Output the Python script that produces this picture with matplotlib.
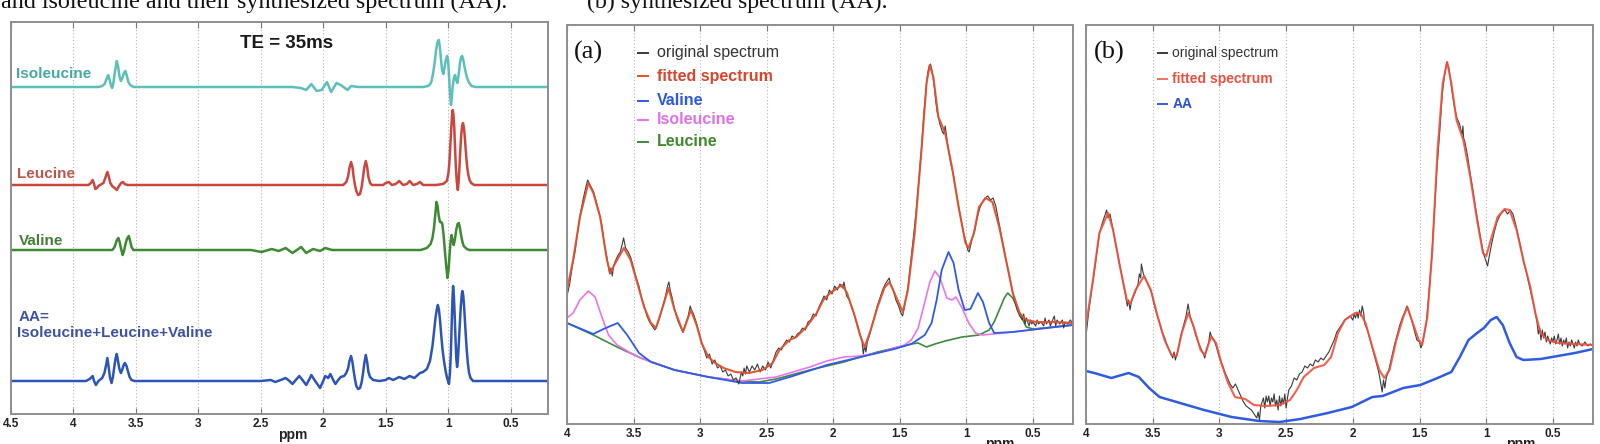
import matplotlib
matplotlib.use("Agg")
import matplotlib.pyplot as plt

SANS = "Liberation Sans"
SERIF = "Liberation Serif"

# ---------------- Panel 1 : individual metabolite spectra ----------------
ticks_p1 = [4.5, 4, 3.5, 3, 2.5, 2, 1.5, 1, 0.5]
ticklabels_p1 = ["4.5", "4", "3.5", "3", "2.5", "2", "1.5", "1", "0.5"]
ticks_p23 = [4, 3.5, 3, 2.5, 2, 1.5, 1, 0.5]
ticklabels_p23 = ["4", "3.5", "3", "2.5", "2", "1.5", "1", "0.5"]

p1_names = ["Isoleucine", "Leucine", "Valine", "AA"]
p1_offsets = [327, 229, 164, 33]

iso_pts = [(4.50, 0), (3.80, 0), (3.77, 1), (3.75, 3), (3.735, 8), (3.722, 12), (3.71, 7), (3.698, 1),
           (3.69, -1), (3.68, 4), (3.668, 15), (3.653, 26), (3.642, 20), (3.632, 11), (3.62, 6),
           (3.608, 9), (3.596, 14), (3.584, 16), (3.572, 11), (3.56, 5), (3.545, 2), (3.52, 0), (3.50, 0),
           (2.25, 0), (2.18, -1), (2.136, -3), (2.095, 3), (2.053, -4), (2.012, -3), (1.97, 5), (1.937, -5),
           (1.893, 4), (1.86, 2), (1.805, -3), (1.777, 1), (1.722, 0),
           (1.20, 0), (1.16, 1), (1.143, 3), (1.132, 6), (1.12, 14), (1.108, 24), (1.097, 36), (1.085, 45),
           (1.074, 47), (1.066, 40), (1.058, 29), (1.048, 17), (1.038, 13), (1.03, 18), (1.02, 26),
           (1.008, 31), (1.0, 26), (0.992, 10), (0.984, -8), (0.977, -18), (0.97, -10), (0.962, 2),
           (0.952, 10), (0.944, 12), (0.935, 7), (0.926, 4), (0.916, 12), (0.905, 24), (0.895, 30),
           (0.887, 31), (0.878, 27), (0.868, 20), (0.856, 13), (0.845, 8), (0.83, 4), (0.812, 1),
           (0.78, 0), (0.20, 0)]

leu_pts = [(4.50, 0), (3.88, 0), (3.86, 2), (3.846, 5), (3.835, 1), (3.825, -4), (3.812, -3), (3.80, -1),
           (3.76, 2), (3.745, 7), (3.735, 11), (3.728, 13), (3.718, 9), (3.705, 2), (3.69, -1),
           (3.67, -3), (3.653, -5), (3.635, -1), (3.618, 2), (3.603, 3), (3.59, 1), (3.57, 0), (3.50, 0),
           (1.84, 0), (1.815, 3), (1.80, 9), (1.79, 17), (1.777, 23), (1.766, 18), (1.756, 8),
           (1.746, 0), (1.735, -6), (1.72, -10), (1.705, -9), (1.692, -2), (1.682, 7), (1.672, 17),
           (1.659, 24), (1.648, 18), (1.638, 8), (1.625, 2), (1.61, 0),
           (1.52, 0), (1.50, 2), (1.474, 3), (1.45, 0), (1.42, 1), (1.391, 4), (1.36, 0), (1.33, 1),
           (1.308, 4), (1.28, 0), (1.25, 1), (1.225, 3), (1.20, 0), (1.10, 0), (1.04, 1), (1.01, 4),
           (0.998, 11), (0.99, 22), (0.982, 40), (0.975, 56), (0.968, 70), (0.963, 75), (0.957, 70),
           (0.95, 56), (0.944, 36), (0.938, 18), (0.93, 3), (0.922, -5), (0.916, 3), (0.91, 15),
           (0.903, 33), (0.895, 50), (0.888, 59), (0.881, 62), (0.874, 58), (0.867, 49), (0.86, 37),
           (0.853, 26), (0.846, 17), (0.838, 10), (0.828, 5), (0.815, 2), (0.79, 0), (0.20, 0)]

val_pts = [(4.50, 0), (3.69, 0), (3.675, 2), (3.665, 5), (3.652, 10), (3.64, 12), (3.63, 8), (3.62, 2),
           (3.606, -5), (3.595, -1), (3.585, 5), (3.572, 11), (3.557, 14), (3.546, 9), (3.535, 3),
           (3.52, 0), (3.40, 0),
           (2.60, 0), (2.577, 0), (2.494, -2), (2.44, 0), (2.412, 1), (2.357, -1), (2.301, 2), (2.246, -3),
           (2.177, 3), (2.136, -3), (2.081, 1), (2.025, -1), (1.984, 2), (1.929, 0),
           (1.22, 0), (1.17, 2), (1.14, 6), (1.125, 12), (1.113, 22), (1.103, 35), (1.093, 48),
           (1.084, 44), (1.075, 34), (1.065, 28), (1.055, 28), (1.046, 26), (1.036, 15), (1.025, -2),
           (1.015, -16), (1.005, -28), (0.996, -20), (0.988, -4), (0.98, 9), (0.972, 15), (0.963, 9),
           (0.955, 5), (0.945, 11), (0.935, 20), (0.924, 26), (0.914, 27), (0.905, 22), (0.895, 14),
           (0.885, 8), (0.875, 4), (0.85, 1), (0.83, 0), (0.20, 0)]

aa_pts = [(4.50, 0), (3.90, 0), (3.87, 2), (3.846, 5), (3.835, 0), (3.82, -4), (3.80, 0), (3.77, 3),
          (3.752, 8), (3.74, 15), (3.728, 23), (3.718, 14), (3.708, 4), (3.695, -2), (3.684, 4),
          (3.672, 15), (3.662, 23), (3.653, 27), (3.643, 20), (3.632, 12), (3.62, 8), (3.61, 11),
          (3.598, 16), (3.588, 18), (3.575, 15), (3.562, 9), (3.55, 4), (3.535, 1), (3.51, 0), (3.40, 0),
          (2.50, 0),
          (2.42, 1), (2.384, -1), (2.34, 1), (2.301, 3), (2.27, 0), (2.246, -3), (2.22, 1), (2.191, 5),
          (2.16, 0), (2.136, -4), (2.11, 2), (2.095, 6), (2.07, 1), (2.053, -2), (2.025, -7), (2.00, 0),
          (1.984, 5), (1.96, 3), (1.943, 7), (1.92, 1), (1.902, -3), (1.88, 1), (1.86, 4), (1.833, 5),
          (1.815, 8), (1.80, 13), (1.79, 20), (1.777, 25), (1.766, 19), (1.756, 10), (1.746, 2),
          (1.735, -5), (1.72, -8), (1.705, -7), (1.692, -1), (1.682, 7), (1.672, 17), (1.659, 26),
          (1.648, 19), (1.638, 9), (1.625, 4), (1.60, 1), (1.55, 0), (1.50, 1),
          (1.474, 3), (1.44, 1), (1.391, 4), (1.35, 2), (1.308, 5), (1.27, 3), (1.225, 8), (1.20, 9),
          (1.17, 12), (1.145, 20), (1.125, 35), (1.112, 50), (1.10, 64), (1.09, 72), (1.082, 76),
          (1.073, 71), (1.064, 60), (1.055, 46), (1.045, 32), (1.033, 20), (1.02, 10), (1.008, 3),
          (0.993, -3), (0.985, 8), (0.978, 28), (0.97, 62), (0.965, 82), (0.96, 95), (0.954, 86),
          (0.948, 68), (0.94, 40), (0.934, 22), (0.928, 14), (0.922, 20), (0.915, 36), (0.907, 55),
          (0.898, 75), (0.89, 87), (0.886, 90), (0.879, 86), (0.872, 75), (0.865, 60), (0.858, 45),
          (0.85, 30), (0.842, 18), (0.832, 8), (0.82, 3), (0.80, 0), (0.20, 0)]

# ---------------- Panel (a) : fit with individual components ----------------
a_fit = [(4.000, 134), (3.954, 164), (3.903, 207), (3.840, 241), (3.802, 231), (3.751, 207), (3.700, 164),
         (3.675, 151), (3.637, 161), (3.573, 176), (3.522, 164), (3.472, 141), (3.421, 117), (3.370, 101),
         (3.332, 96), (3.281, 117), (3.238, 136), (3.192, 114), (3.129, 92), (3.070, 114), (3.027, 99),
         (2.989, 81), (2.938, 67), (2.887, 61), (2.824, 56), (2.735, 52), (2.633, 51), (2.532, 54),
         (2.456, 61), (2.405, 74), (2.329, 84), (2.278, 87), (2.202, 97), (2.125, 111), (2.075, 124),
         (2.024, 131), (1.935, 139), (1.897, 131), (1.846, 111), (1.795, 87), (1.765, 77), (1.719, 94),
         (1.668, 117), (1.617, 136), (1.579, 142), (1.541, 131), (1.478, 112), (1.440, 134), (1.389, 191),
         (1.338, 274), (1.300, 341), (1.275, 359), (1.249, 347), (1.211, 307), (1.160, 291), (1.109, 257),
         (1.059, 217), (1.008, 181), (0.983, 176), (0.944, 191), (0.906, 217), (0.856, 226), (0.805, 222),
         (0.754, 197), (0.703, 164), (0.652, 131), (0.601, 111), (0.551, 104), (0.474, 102), (0.347, 102),
         (0.200, 101)]

a_orig = [(4.00, 128), (3.98, 140), (3.96, 158), (3.94, 172), (3.92, 192), (3.90, 210), (3.88, 224),
          (3.86, 236), (3.845, 244), (3.83, 240), (3.815, 236), (3.80, 232), (3.78, 222), (3.76, 212),
          (3.74, 200), (3.72, 180), (3.70, 166), (3.69, 158), (3.68, 150), (3.67, 156), (3.66, 148),
          (3.65, 158), (3.64, 162), (3.62, 168), (3.60, 172), (3.585, 180), (3.575, 186), (3.56, 176),
          (3.54, 172), (3.52, 166), (3.50, 156), (3.48, 146), (3.46, 138), (3.44, 126), (3.42, 118),
          (3.40, 108), (3.38, 102), (3.36, 98), (3.34, 94), (3.32, 100), (3.30, 108), (3.28, 118),
          (3.26, 128), (3.245, 138), (3.235, 142), (3.225, 134), (3.21, 126), (3.19, 114), (3.17, 104),
          (3.15, 98), (3.13, 92), (3.11, 100), (3.09, 108), (3.075, 118), (3.065, 114), (3.05, 110),
          (3.03, 102), (3.01, 92), (2.99, 82), (2.97, 74), (2.95, 66), (2.93, 70), (2.91, 60), (2.89, 64),
          (2.87, 56), (2.85, 58), (2.83, 52), (2.81, 54), (2.79, 48), (2.77, 50), (2.75, 44), (2.73, 46),
          (2.71, 40), (2.70, 46), (2.69, 52), (2.68, 48), (2.67, 56), (2.66, 50), (2.65, 58), (2.63, 52),
          (2.61, 58), (2.59, 54), (2.57, 60), (2.55, 52), (2.53, 58), (2.51, 54), (2.49, 62), (2.47, 56),
          (2.45, 64), (2.43, 72), (2.41, 76), (2.39, 74), (2.37, 80), (2.35, 84), (2.33, 82), (2.31, 88),
          (2.29, 86), (2.27, 90), (2.25, 92), (2.23, 96), (2.21, 94), (2.19, 102), (2.17, 104),
          (2.15, 110), (2.13, 108), (2.11, 116), (2.09, 122), (2.07, 128), (2.05, 124), (2.03, 134),
          (2.01, 130), (1.99, 138), (1.97, 134), (1.95, 140), (1.93, 136), (1.92, 142), (1.90, 128),
          (1.88, 124), (1.86, 116), (1.84, 108), (1.82, 100), (1.80, 90), (1.785, 84), (1.775, 70),
          (1.765, 78), (1.755, 72), (1.745, 82), (1.73, 88), (1.71, 98), (1.69, 108), (1.67, 118),
          (1.65, 126), (1.63, 134), (1.61, 140), (1.59, 144), (1.58, 146), (1.57, 140), (1.55, 134),
          (1.53, 124), (1.51, 118), (1.495, 112), (1.48, 108), (1.47, 114), (1.46, 122), (1.44, 136),
          (1.42, 160), (1.40, 185), (1.38, 210), (1.36, 240), (1.34, 272), (1.32, 310), (1.30, 340),
          (1.29, 352), (1.28, 358), (1.27, 360), (1.26, 354), (1.25, 346), (1.24, 336), (1.23, 322),
          (1.22, 312), (1.21, 306), (1.20, 300), (1.19, 296), (1.18, 292), (1.17, 290), (1.16, 298),
          (1.15, 288), (1.14, 278), (1.12, 262), (1.10, 250), (1.08, 234), (1.06, 218), (1.04, 204),
          (1.02, 190), (1.00, 180), (0.99, 174), (0.98, 172), (0.97, 178), (0.96, 184), (0.94, 192),
          (0.92, 206), (0.90, 216), (0.88, 222), (0.86, 226), (0.84, 228), (0.82, 224), (0.80, 226),
          (0.78, 218), (0.76, 204), (0.74, 190), (0.72, 176), (0.70, 162), (0.68, 150), (0.66, 136),
          (0.64, 124), (0.62, 114), (0.60, 108), (0.58, 104), (0.57, 110), (0.56, 100), (0.55, 106),
          (0.54, 102), (0.53, 98), (0.52, 104), (0.51, 100), (0.50, 102), (0.48, 98), (0.47, 104),
          (0.46, 100), (0.44, 102), (0.42, 98), (0.41, 106), (0.40, 100), (0.38, 104), (0.37, 98),
          (0.36, 102), (0.34, 108), (0.33, 98), (0.32, 104), (0.30, 100), (0.28, 104), (0.27, 96),
          (0.26, 102), (0.24, 100), (0.22, 104), (0.20, 100)]

a_leucine = [(4.000, 101), (3.802, 89), (3.624, 77), (3.446, 66), (3.192, 54), (2.938, 47), (2.710, 43),
             (2.557, 42), (2.430, 45), (2.176, 54), (1.922, 62), (1.668, 72), (1.541, 76), (1.414, 80),
             (1.363, 81), (1.300, 77), (1.237, 80), (1.160, 83), (1.033, 87), (0.906, 89), (0.830, 94),
             (0.792, 102), (0.754, 114), (0.716, 126), (0.690, 131), (0.652, 126), (0.601, 111),
             (0.551, 97), (0.500, 95), (0.347, 97), (0.200, 99)]

a_isoleucine = [(4.000, 106), (3.954, 111), (3.903, 124), (3.840, 133), (3.789, 127), (3.738, 107),
                (3.688, 89), (3.624, 79), (3.522, 71), (3.446, 66), (3.192, 54), (2.938, 47), (2.684, 43),
                (2.430, 47), (2.176, 57), (2.049, 63), (1.922, 67), (1.795, 68), (1.668, 71), (1.541, 76),
                (1.465, 79), (1.414, 84), (1.363, 96), (1.313, 122), (1.275, 142), (1.237, 153),
                (1.198, 146), (1.148, 126), (1.109, 124), (1.079, 127), (1.033, 116), (0.983, 101),
                (0.932, 91), (0.881, 89), (0.652, 92), (0.398, 96), (0.200, 99)]

a_valine = [(4.000, 101), (3.802, 90), (3.726, 95), (3.619, 101), (3.548, 89), (3.459, 71), (3.370, 62),
            (3.192, 54), (2.938, 47), (2.684, 41), (2.481, 41), (2.303, 48), (2.049, 59), (1.795, 67),
            (1.541, 75), (1.414, 80), (1.313, 89), (1.262, 101), (1.224, 124), (1.186, 154), (1.135, 172),
            (1.097, 161), (1.059, 134), (1.013, 114), (0.970, 115), (0.914, 131), (0.876, 122),
            (0.830, 101), (0.792, 91), (0.652, 92), (0.398, 96), (0.200, 99)]

# ---------------- Panel (b) : fit with synthesized AA ----------------
b_fit = [(4.000, 99), (3.951, 141), (3.900, 191), (3.835, 211), (3.797, 194), (3.745, 157), (3.694, 124),
         (3.668, 120), (3.629, 134), (3.565, 148), (3.514, 134), (3.462, 107), (3.411, 84), (3.359, 69),
         (3.321, 68), (3.282, 91), (3.233, 111), (3.192, 97), (3.141, 74), (3.110, 69), (3.063, 87),
         (3.025, 81), (2.986, 61), (2.935, 41), (2.883, 27), (2.806, 25), (2.742, 19), (2.652, 18),
         (2.549, 19), (2.471, 24), (2.420, 34), (2.368, 47), (2.291, 56), (2.214, 59), (2.163, 67),
         (2.111, 91), (2.060, 104), (1.983, 111), (1.944, 111), (1.905, 101), (1.854, 77), (1.802, 54),
         (1.764, 46), (1.725, 54), (1.674, 84), (1.622, 107), (1.591, 117), (1.558, 104), (1.506, 84),
         (1.481, 79), (1.442, 107), (1.404, 174), (1.365, 274), (1.326, 341), (1.293, 362), (1.262, 341),
         (1.223, 304), (1.172, 284), (1.120, 247), (1.069, 204), (1.025, 171), (1.000, 168), (0.966, 184),
         (0.915, 207), (0.863, 215), (0.825, 214), (0.773, 194), (0.722, 164), (0.670, 137), (0.632, 111),
         (0.593, 91), (0.541, 84), (0.464, 81), (0.336, 80), (0.200, 79)]

b_orig = [(4.00, 88), (3.98, 112), (3.96, 132), (3.94, 150), (3.92, 170), (3.90, 190), (3.88, 200),
          (3.86, 208), (3.845, 214), (3.835, 206), (3.82, 210), (3.80, 196), (3.78, 182), (3.76, 168),
          (3.74, 154), (3.72, 140), (3.70, 126), (3.69, 118), (3.68, 124), (3.67, 114), (3.66, 122),
          (3.65, 126), (3.63, 132), (3.61, 140), (3.60, 150), (3.59, 146), (3.585, 160), (3.57, 150),
          (3.55, 144), (3.53, 138), (3.51, 132), (3.49, 120), (3.47, 110), (3.45, 102), (3.43, 92),
          (3.41, 86), (3.39, 78), (3.37, 72), (3.35, 66), (3.34, 72), (3.33, 64), (3.31, 74), (3.29, 88),
          (3.27, 98), (3.25, 108), (3.24, 116), (3.235, 120), (3.22, 108), (3.20, 100), (3.18, 90),
          (3.16, 82), (3.14, 76), (3.12, 70), (3.11, 66), (3.10, 72), (3.08, 82), (3.07, 92), (3.06, 88),
          (3.04, 84), (3.02, 76), (3.00, 66), (2.98, 60), (2.96, 52), (2.94, 46), (2.92, 40), (2.90, 36),
          (2.88, 40), (2.86, 34), (2.84, 28), (2.82, 22), (2.80, 18), (2.78, 16), (2.76, 14), (2.74, 10),
          (2.72, 6), (2.71, 12), (2.70, 4), (2.69, 18), (2.68, 22), (2.67, 26), (2.66, 16), (2.65, 28),
          (2.64, 22), (2.63, 28), (2.62, 18), (2.61, 26), (2.60, 22), (2.59, 30), (2.58, 18), (2.57, 24),
          (2.56, 14), (2.55, 28), (2.54, 18), (2.53, 26), (2.52, 20), (2.51, 30), (2.50, 16), (2.49, 26),
          (2.48, 34), (2.46, 38), (2.44, 46), (2.42, 44), (2.40, 50), (2.38, 52), (2.36, 58), (2.34, 56),
          (2.32, 60), (2.30, 58), (2.28, 64), (2.26, 62), (2.24, 66), (2.22, 64), (2.20, 68), (2.18, 72),
          (2.16, 78), (2.14, 84), (2.12, 92), (2.10, 96), (2.08, 100), (2.06, 104), (2.04, 106),
          (2.02, 108), (2.00, 104), (1.99, 110), (1.98, 106), (1.97, 112), (1.96, 106), (1.95, 114),
          (1.94, 108), (1.93, 118), (1.92, 112), (1.91, 100), (1.89, 94), (1.87, 84), (1.85, 74),
          (1.83, 64), (1.81, 54), (1.80, 48), (1.79, 40), (1.78, 32), (1.77, 44), (1.76, 36), (1.75, 46),
          (1.73, 54), (1.71, 66), (1.69, 78), (1.67, 88), (1.65, 98), (1.63, 106), (1.61, 112),
          (1.595, 118), (1.58, 112), (1.56, 104), (1.54, 94), (1.52, 84), (1.50, 82), (1.49, 76),
          (1.48, 80), (1.47, 86), (1.45, 100), (1.43, 130), (1.41, 165), (1.39, 210), (1.37, 255),
          (1.35, 290), (1.33, 330), (1.31, 352), (1.295, 362), (1.28, 356), (1.27, 346), (1.26, 336),
          (1.24, 318), (1.22, 306), (1.20, 300), (1.19, 294), (1.18, 290), (1.175, 298), (1.17, 286),
          (1.16, 282), (1.14, 268), (1.12, 250), (1.10, 234), (1.08, 216), (1.06, 200), (1.04, 184),
          (1.02, 170), (1.00, 162), (0.99, 158), (0.98, 166), (0.96, 180), (0.94, 192), (0.92, 202),
          (0.90, 208), (0.88, 212), (0.86, 214), (0.84, 210), (0.82, 214), (0.80, 210), (0.78, 200),
          (0.76, 188), (0.74, 176), (0.72, 162), (0.70, 152), (0.68, 140), (0.66, 128), (0.64, 116),
          (0.62, 102), (0.61, 90), (0.60, 96), (0.59, 84), (0.58, 94), (0.57, 86), (0.56, 92), (0.55, 82),
          (0.54, 88), (0.53, 84), (0.52, 80), (0.51, 86), (0.50, 82), (0.49, 88), (0.48, 80), (0.47, 84),
          (0.46, 90), (0.45, 80), (0.44, 86), (0.43, 78), (0.42, 84), (0.41, 80), (0.40, 86), (0.39, 76),
          (0.38, 82), (0.37, 78), (0.36, 84), (0.35, 80), (0.34, 76), (0.33, 82), (0.32, 78), (0.31, 84),
          (0.30, 80), (0.28, 78), (0.26, 82), (0.24, 78), (0.22, 80), (0.20, 78)]

b_aa = [(4.000, 53), (3.938, 51), (3.810, 46), (3.681, 51), (3.604, 47), (3.527, 36), (3.449, 27),
        (3.295, 21), (3.115, 14), (2.909, 7), (2.703, 3), (2.549, 2), (2.394, 5), (2.188, 11), (2.008, 17),
        (1.931, 22), (1.854, 27), (1.777, 28), (1.699, 32), (1.622, 36), (1.494, 39), (1.365, 46),
        (1.262, 52), (1.198, 67), (1.133, 84), (1.069, 91), (1.018, 96), (0.966, 104), (0.922, 107),
        (0.876, 99), (0.825, 81), (0.773, 67), (0.722, 64), (0.593, 65), (0.464, 68), (0.336, 71),
        (0.200, 75)]

# ---------------- colours ----------------
p1_colors = ["#5cbfba", "#c9473c", "#3e8a33", "#2d55b5"]
p1_label_colors = ["#45a9a0", "#c0554c", "#437f34", "#3d52a0"]
c_orig = "#3a3a3a"
c_fit = "#e0502e"
c_val = "#2f5be6"
c_iso = "#ea74ea"
c_leu = "#3f8a3c"
c_aa = "#2f5be0"
frame_c = "#8e8e8e"


def xy(pts):
    xs, ys = zip(*pts)
    return list(xs), list(ys)


def style_axes(ax, ticks, labels, xlim, ylim):
    ax.set_xlim(*xlim)
    ax.set_ylim(*ylim)
    ax.set_xticks(ticks)
    ax.set_xticklabels(labels)
    ax.set_yticks([])
    ax.tick_params(axis="x", direction="in", length=4, width=0.8, color="#777777",
                   top=True, bottom=True, pad=3, labelsize=8.5)
    for lab in ax.get_xticklabels():
        lab.set_fontweight("bold")
        lab.set_family(SANS)
        lab.set_color("#222222")
    ax.grid(axis="x", linestyle=(0, (1, 2)), color="#b5b5b5", linewidth=0.8)
    ax.set_axisbelow(True)
    for s in ax.spines.values():
        s.set_color(frame_c)
        s.set_linewidth(1.4)


fig = plt.figure(figsize=(16, 4.44), dpi=100)

# ---- caption fragments cut at top ----
fig.text(0.0005, 0.982, "and isoleucine and their synthesized spectrum (AA).", family=SERIF,
         fontsize=17.4, va="baseline", ha="left", color="#111111")
fig.text(0.3667, 0.982, "(b) synthesized spectrum (AA).", family=SERIF,
         fontsize=17.2, va="baseline", ha="left", color="#111111")

# ---- Panel 1 ----
ax1 = fig.add_axes([11 / 1600, 30 / 444, 537 / 1600, 392 / 444])
style_axes(ax1, ticks_p1, ticklabels_p1, (4.5, 0.2), (0, 392))
for pts, off, col in zip([iso_pts, leu_pts, val_pts, aa_pts], p1_offsets, p1_colors):
    xs, ys = xy(pts)
    ax1.plot(xs, [y + off for y in ys], color=col, lw=1.8, solid_joinstyle="round")
ax1.text(2.29, 371, "TE = 35ms", family=SANS, fontweight="bold", fontsize=13.5,
         ha="center", va="center", color="#1a1a1a")
ax1.text(4.46, 340, "Isoleucine", family=SANS, fontweight="bold", fontsize=11,
         ha="left", va="center", color=p1_label_colors[0])
ax1.text(4.455, 240, "Leucine", family=SANS, fontweight="bold", fontsize=11,
         ha="left", va="center", color=p1_label_colors[1])
ax1.text(4.44, 173, "Valine", family=SANS, fontweight="bold", fontsize=11,
         ha="left", va="center", color=p1_label_colors[2])
ax1.text(4.44, 97, "AA=", family=SANS, fontweight="bold", fontsize=11,
         ha="left", va="center", color=p1_label_colors[3])
ax1.text(4.455, 81, "Isoleucine+Leucine+Valine", family=SANS, fontweight="bold", fontsize=11,
         ha="left", va="center", color=p1_label_colors[3])
ax1.text(0.525, -0.054, "ppm", transform=ax1.transAxes, family=SANS, fontweight="bold",
         fontsize=10, ha="center", va="center", color="#222222")

# ---- Panel (a) ----
ax2 = fig.add_axes([567 / 1600, 20 / 444, 506 / 1600, 399 / 444])
style_axes(ax2, ticks_p23, ticklabels_p23, (4.0, 0.2), (0, 399))
for pts, col, lw in [(a_leucine, c_leu, 1.2), (a_isoleucine, c_iso, 1.2), (a_valine, c_val, 1.3)]:
    xs, ys = xy(pts)
    ax2.plot(xs, ys, color=col, lw=lw)
xs, ys = xy(a_orig)
ax2.plot(xs, ys, color=c_orig, lw=0.8)
xs, ys = xy(a_fit)
ax2.plot(xs, ys, color=c_fit, lw=1.5, alpha=0.95)

ax2.text(0.014, 0.930, "(a)", transform=ax2.transAxes, family=SERIF, fontsize=19,
         ha="left", va="center", color="#111111")
leg_a = [("original spectrum", c_orig, "normal", "#333333", 0.930),
         ("fitted spectrum", c_fit, "bold", "#d9442c", 0.872),
         ("Valine", c_val, "bold", "#2d58e0", 0.810),
         ("Isoleucine", c_iso, "bold", "#e070e6", 0.762),
         ("Leucine", c_leu, "bold", "#3f8a2c", 0.707)]
for txt, lc, fw, tc, yy in leg_a:
    ax2.plot([0.141, 0.160], [yy, yy], transform=ax2.transAxes, color=lc, lw=1.4)
    ax2.text(0.177, yy, txt, transform=ax2.transAxes, family=SANS, fontweight=fw,
             fontsize=11.5, ha="left", va="center", color=tc)
ax2.text(0.856, -0.050, "ppm", transform=ax2.transAxes, family=SANS, fontweight="bold",
         fontsize=10, ha="center", va="center", color="#222222")

# ---- Panel (b) ----
ax3 = fig.add_axes([1086 / 1600, 20 / 444, 507 / 1600, 399 / 444])
style_axes(ax3, ticks_p23, ticklabels_p23, (4.0, 0.2), (0, 399))
xs, ys = xy(b_aa)
ax3.plot(xs, ys, color=c_aa, lw=1.8)
xs, ys = xy(b_orig)
ax3.plot(xs, ys, color=c_orig, lw=0.8)
xs, ys = xy(b_fit)
ax3.plot(xs, ys, color="#f0503a", lw=1.5, alpha=0.9)

ax3.text(0.016, 0.930, "(b)", transform=ax3.transAxes, family=SERIF, fontsize=19,
         ha="left", va="center", color="#111111")
leg_b = [("original spectrum", c_orig, "normal", "#333333", 0.930),
         ("fitted spectrum", "#f07060", "bold", "#ee5040", 0.865),
         ("AA", c_aa, "bold", "#2d50d0", 0.802)]
for txt, lc, fw, tc, yy in leg_b:
    ax3.plot([0.142, 0.160], [yy, yy], transform=ax3.transAxes, color=lc, lw=1.4)
    ax3.text(0.170, yy, txt, transform=ax3.transAxes, family=SANS, fontweight=fw,
             fontsize=10, ha="left", va="center", color=tc)
ax3.text(0.858, -0.050, "ppm", transform=ax3.transAxes, family=SANS, fontweight="bold",
         fontsize=10, ha="center", va="center", color="#222222")

fig.savefig("out.png", dpi=100)
